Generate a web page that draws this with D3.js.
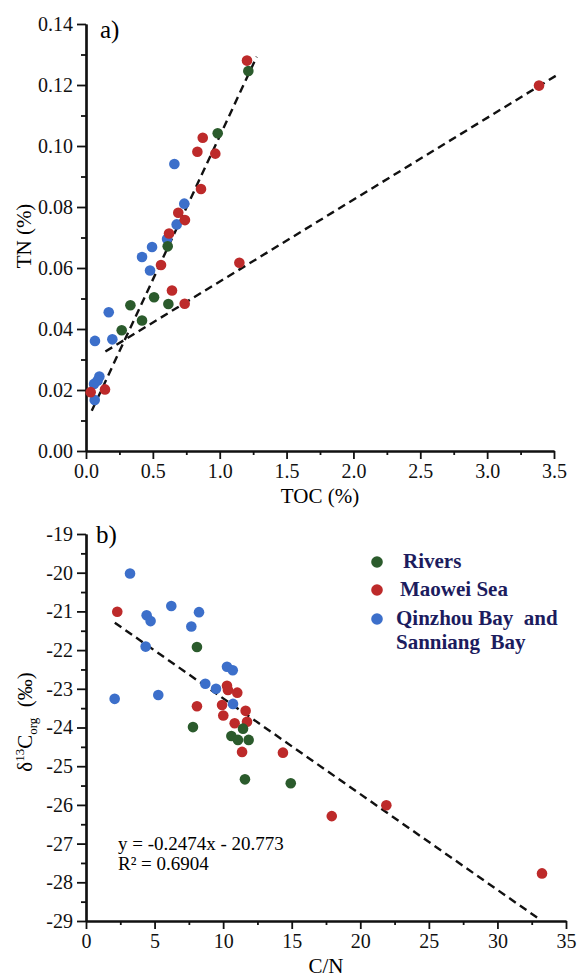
<!DOCTYPE html>
<html>
<head>
<meta charset="utf-8">
<script src="https://cdn.jsdelivr.net/npm/d3@7"></script>
<style>
  body { margin: 0; background: #fff; }
  svg { font-family: "Liberation Serif", "Times New Roman", serif; }
</style>
</head>
<body>
<svg id="chart" width="579" height="979"></svg>
<script>
// panel a: TOC (%) vs TN (%)
const riversA = [[1.214,0.1246],[0.985,0.1042],[0.611,0.0671],[0.509,0.0504],[0.332,0.0478],[0.616,0.0482],[0.419,0.0428],[0.267,0.0396]];
const maoweiA = [[1.204,0.128],[0.873,0.1027],[0.833,0.0981],[0.967,0.0975],[0.860,0.0859],[0.690,0.0781],[0.740,0.0757],[0.621,0.0713],[0.561,0.0610],[0.643,0.0526],[0.738,0.0483],[1.147,0.0617],[0.035,0.0193],[0.142,0.0202],[3.388,0.1198]];
const qinzhouA = [[0.661,0.0941],[0.735,0.0811],[0.678,0.0743],[0.606,0.0695],[0.494,0.0669],[0.419,0.0636],[0.479,0.0592],[0.170,0.0455],[0.197,0.0366],[0.067,0.0361],[0.100,0.0244],[0.087,0.0231],[0.060,0.0220],[0.065,0.0167]];
const fitA1 = [[0.043,0.0132],[1.277,0.1293]];
const fitA2 = [[0.145,0.0326],[3.513,0.1230]];
const ticksAX = [0,0.5,1,1.5,2,2.5,3,3.5];
const ticksAY = [0,0.02,0.04,0.06,0.08,0.10,0.12,0.14];

// panel b: C/N vs d13Corg
const riversB = [[8.09,-21.92],[7.80,-23.99],[11.45,-24.03],[10.60,-24.22],[11.08,-24.32],[11.86,-24.32],[11.59,-25.34],[14.93,-25.44]];
const maoweiB = [[2.28,-21.01],[10.28,-22.92],[10.35,-23.03],[11.03,-23.10],[8.09,-23.45],[9.92,-23.42],[10.01,-23.69],[11.64,-23.57],[11.74,-23.85],[10.84,-23.89],[11.38,-24.63],[14.36,-24.65],[21.90,-26.01],[17.92,-26.29],[33.25,-27.77]];
const qinzhouB = [[3.21,-20.02],[4.42,-21.10],[4.71,-21.25],[6.22,-20.86],[8.24,-21.02],[7.68,-21.39],[4.35,-21.91],[2.09,-23.26],[5.27,-23.16],[8.70,-22.87],[9.48,-23.00],[10.28,-22.43],[10.70,-22.52],[10.72,-23.39]];
const fitB = { slope: -0.2474, intercept: -20.773, from: 2.1, to: 33.1 };
const ticksBX = [0,5,10,15,20,25,30,35];
const ticksBY = [-29,-28,-27,-26,-25,-24,-23,-22,-21,-20,-19];

const groups = ["Rivers", "Maowei Sea", "Qinzhou Bay  and"];
const colors = { "Rivers": "#2b5b2c", "Maowei Sea": "#bd2a2a", "Qinzhou Bay  and": "#3c6fca" };

const svg = d3.select("#chart");

function axes(x, y, xt, yt, xMinor, yMinor, fx, fy) {
  const g = svg.append("g");
  const bottom = y.range()[0], left = x.range()[0];
  g.append("g").attr("transform", `translate(0,${bottom})`)
    .call(d3.axisBottom(x).tickValues(xMinor).tickSize(4).tickFormat("").tickSizeOuter(0));
  g.append("g").attr("transform", `translate(${left},0)`)
    .call(d3.axisLeft(y).tickValues(yMinor).tickSize(5).tickFormat("").tickSizeOuter(0));
  g.append("g").attr("transform", `translate(0,${bottom})`)
    .call(d3.axisBottom(x).tickValues(xt).tickSize(8).tickSizeOuter(0).tickPadding(5).tickFormat(fx));
  g.append("g").attr("transform", `translate(${left},0)`)
    .call(d3.axisLeft(y).tickValues(yt).tickSize(9).tickSizeOuter(0).tickPadding(4).tickFormat(fy));
  g.selectAll("path.domain").attr("stroke", "#111").attr("stroke-width", 2.2);
  g.selectAll(".tick line").attr("stroke", "#111").attr("stroke-width", 1.8);
  g.selectAll(".tick text").attr("fill", "#111").style("font-size", "20px")
    .style("font-family", "'Liberation Serif', 'Times New Roman', serif");
  return g;
}

function dots(x, y, data, color) {
  svg.append("g").selectAll("circle").data(data).join("circle")
    .attr("cx", d => x(d[0])).attr("cy", d => y(d[1])).attr("r", 5.3)
    .attr("fill", color);
}

function dashed(x, y, pts) {
  svg.append("path").datum(pts)
    .attr("fill", "none").attr("stroke", "#111").attr("stroke-width", 2.4)
    .attr("stroke-dasharray", "8,5")
    .attr("d", d3.line().x(d => x(d[0])).y(d => y(d[1])));
}

// ---- panel a
const xA = d3.scaleLinear().domain([0, 3.5]).range([86, 554]);
const yA = d3.scaleLinear().domain([0, 0.14]).range([451, 24]);
axes(xA, yA, ticksAX, ticksAY,
  d3.range(0.25, 3.5, 0.5), d3.range(0.01, 0.14, 0.02),
  d3.format(".1f"), d3.format(".2f"));

dashed(xA, yA, fitA1);
dashed(xA, yA, fitA2);
dots(xA, yA, qinzhouA, colors[groups[2]]);
dots(xA, yA, maoweiA, colors[groups[1]]);
dots(xA, yA, riversA, colors[groups[0]]);

svg.append("text").attr("x", 100).attr("y", 38).style("font-size", "25px").text("a)");
svg.append("text").attr("x", 320).attr("y", 503).attr("text-anchor", "middle")
  .style("font-size", "21px").text("TOC (%)");
svg.append("text").attr("transform", "translate(31,236) rotate(-90)").attr("text-anchor", "middle")
  .style("font-size", "21px").text("TN (%)");

// ---- panel b
const xB = d3.scaleLinear().domain([0, 35]).range([86, 566]);
const yB = d3.scaleLinear().domain([-29, -19]).range([921, 534]);
axes(xB, yB, ticksBX, ticksBY,
  d3.range(2.5, 35, 5), d3.range(-28.5, -19, 1),
  d => String(d), d => String(d));

dashed(xB, yB, [fitB.from, fitB.to].map(v => [v, fitB.slope * v + fitB.intercept]));
dots(xB, yB, qinzhouB, colors[groups[2]]);
dots(xB, yB, maoweiB, colors[groups[1]]);
dots(xB, yB, riversB, colors[groups[0]]);

svg.append("text").attr("x", 96).attr("y", 543).style("font-size", "25px").text("b)");
svg.append("text").attr("x", 326).attr("y", 973).attr("text-anchor", "middle")
  .style("font-size", "21px").text("C/N");

const yt = svg.append("text").attr("transform", "translate(32,722) rotate(-90)")
  .attr("text-anchor", "middle").style("font-size", "21px");
yt.append("tspan").text("δ");
yt.append("tspan").attr("dy", -8).style("font-size", "13px").text("13");
yt.append("tspan").attr("dy", 8).text("C");
yt.append("tspan").attr("dy", 5).style("font-size", "13px").text("org");
yt.append("tspan").attr("dy", -5).style("white-space", "pre").text("  (‰)");

svg.append("text").attr("x", 118).attr("y", 850).style("font-size", "19px").text("y = -0.2474x - 20.773");
svg.append("text").attr("x", 118).attr("y", 870).style("font-size", "19px").text("R² = 0.6904");

// legend
const legend = svg.append("g").style("font-size", "21px").attr("fill", "#1c1c5e");
const legendY = [562, 590, 619];
groups.forEach((gname, i) => {
  legend.append("circle").attr("cx", 377).attr("cy", legendY[i]).attr("r", 5.8).attr("fill", colors[gname]);
  legend.append("text").attr("x", i === 0 ? 403 : (i === 1 ? 400 : 396)).attr("y", legendY[i] + 6)
    .style("white-space", "pre").style("font-weight", "bold").text(gname);
});
legend.append("text").attr("x", 396).attr("y", legendY[2] + 30)
  .style("white-space", "pre").style("font-weight", "bold").text("Sanniang  Bay");
</script>
</body>
</html>
